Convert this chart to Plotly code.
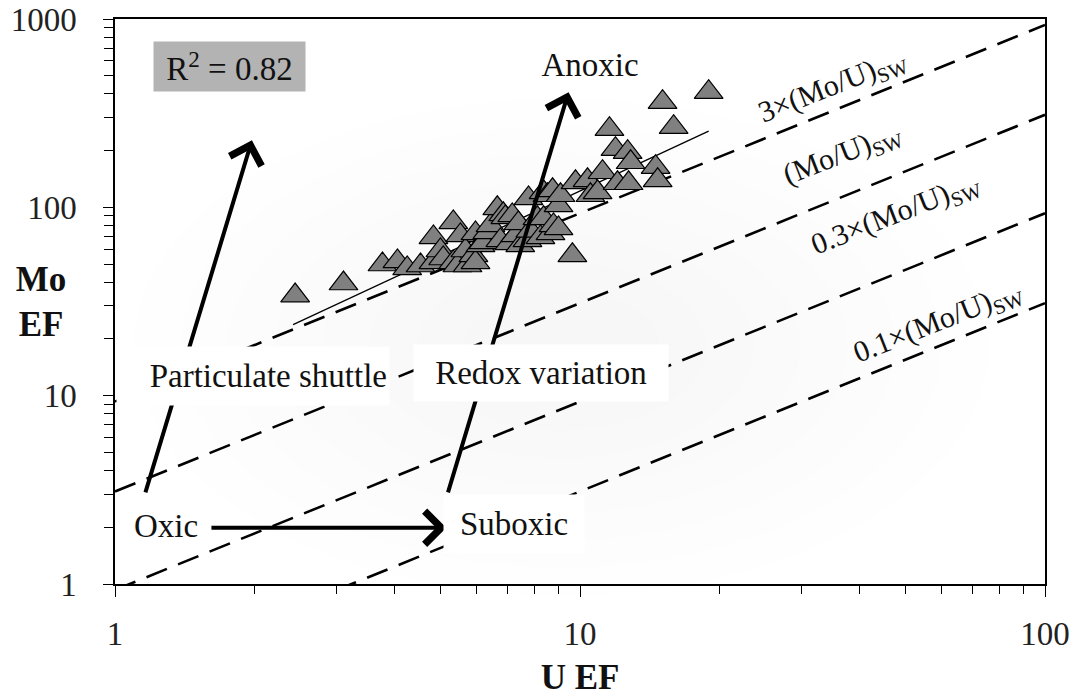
import numpy as np
import plotly.graph_objects as go

# Sample enrichment factors
u_ef = [2.44, 3.10, 3.76, 4.05, 4.25, 4.54, 4.84, 4.84, 5.01, 5.08,
        5.34, 5.34, 5.45, 5.53, 5.67, 5.73, 5.90, 5.96, 5.96, 6.11,
        6.20, 6.32, 6.42, 6.64, 6.74, 6.84, 6.91, 7.05, 7.15, 7.26,
        7.37, 7.44, 7.71, 7.75, 7.82, 8.10, 8.22, 8.35, 8.35, 8.51,
        8.64, 8.73, 8.77, 8.99, 8.99, 9.08, 9.63, 9.78, 10.38, 10.53,
        10.91, 11.18, 11.57, 11.92, 12.04, 12.66, 12.72, 12.85, 14.54, 14.69,
        15.05, 15.90, 18.91]
mo_ef = [34.0, 39.4, 49.7, 51.6, 47.4, 49.1, 69.2, 51.0, 59.0, 53.5,
         83.2, 51.0, 49.1, 70.9, 59.0, 49.1, 55.6, 72.7, 51.0, 62.8,
         65.2, 73.6, 80.2, 98.8, 66.7, 91.8, 88.4, 64.4, 90.6, 70.9,
         82.2, 62.8, 66.7, 111.6, 75.0, 87.4, 69.2, 120.2, 87.4, 115.9,
         72.7, 123.1, 80.2, 102.5, 77.3, 115.9, 55.6, 135.8, 139.2, 115.9,
         120.2, 153.6, 260.0, 203.6, 134.2, 196.2, 134.2, 173.5, 163.3, 139.2,
         362.0, 266.5, 409.0]

# Seawater Mo/U ratio (in EF units) and the multiples drawn as reference lines
mo_u_sw = 3.1
sw_multiples = [3, 1, 0.3, 0.1]
sw_labels = ["3×(Mo/U)<sub>SW</sub>", "(Mo/U)<sub>SW</sub>",
             "0.3×(Mo/U)<sub>SW</sub>", "0.1×(Mo/U)<sub>SW</sub>"]
r_squared = 0.82

x_ticks = [1, 10, 100]
y_ticks = [1, 10, 100, 1000]

SERIF = "Liberation Serif"
lg = np.log10

fig = go.Figure()

# soft grey haze behind the data
for i in range(8):
    s = 1 - i * 0.11
    fig.add_shape(type="circle", xref="paper", yref="paper", layer="below",
                  x0=0.48 - 0.46 * s, x1=0.48 + 0.46 * s,
                  y0=0.42 - 0.44 * s, y1=0.42 + 0.44 * s,
                  line=dict(width=0), fillcolor="rgba(0,0,0,0.005)")

# constant Mo/U ratio lines
for mult in sw_multiples:
    k = mult * mo_u_sw
    xs = [1, 100]
    fig.add_trace(go.Scatter(
        x=xs, y=[k * v for v in xs], mode="lines",
        line=dict(color="black", width=2.6, dash="22px,12px"),
        hoverinfo="skip", showlegend=False))

# power-law regression through the samples
slope, icpt = np.polyfit(lg(u_ef), lg(mo_ef), 1)
xt = np.array([min(u_ef) * 0.99, max(u_ef)])
fig.add_trace(go.Scatter(
    x=xt, y=10 ** (icpt + slope * lg(xt)), mode="lines",
    line=dict(color="black", width=1.3), hoverinfo="skip", showlegend=False))

fig.add_trace(go.Scatter(
    x=u_ef, y=mo_ef, mode="markers",
    marker=dict(symbol="triangle-up", size=25, color="#808080",
                line=dict(color="black", width=1.2)),
    showlegend=False))

ann = []

# process arrows (log10 axis coordinates)
def arrow(x0, y0, x1, y1):
    ann.append(dict(x=lg(x1), y=lg(y1), ax=lg(x0), ay=lg(y0),
                    xref="x", yref="y", axref="x", ayref="y",
                    text="", showarrow=True, arrowhead=4, arrowsize=1.6,
                    arrowwidth=4, arrowcolor="black", standoff=0))

arrow(1.16, 3.01, 1.97, 227)      # particulate shuttle
arrow(5.19, 3.01, 9.45, 409)      # anoxic
arrow(1.60, 1.99, 5.16, 1.99)     # oxic -> suboxic

# ratio line labels
label_xy = [(34.97, 434), (36.7, 189), (47.8, 90.6), (58.8, 24.4)]
for (lx, ly), txt in zip(label_xy, sw_labels):
    ann.append(dict(x=lg(lx), y=lg(ly), xref="x", yref="y", text=txt,
                    showarrow=False, textangle=-21.5,
                    xanchor="center", yanchor="middle",
                    font=dict(family=SERIF, size=30, color="#111")))


def px(xp, yp):
    return (xp - 115) / 930, 1 - (yp - 19) / 565


def box(xp, yp, txt, w, h, bg="white", align="center", size=33):
    x, y = px(xp, yp)
    ann.append(dict(x=x, y=y, xref="paper", yref="paper", text=txt,
                    xanchor="center", yanchor="middle",
                    showarrow=False, bgcolor=bg, width=w, height=h,
                    borderpad=2, align=align,
                    font=dict(family=SERIF, size=size, color="#111")))


box(253, 376, "Particulate shuttle", 268, 54, align="right")
box(541, 373, "Redox variation", 250, 52)
box(514, 524, "Suboxic", 136, 54)
box(166, 526, "Oxic", 70, 44, bg="rgba(0,0,0,0)")
box(590, 65, "Anoxic", 110, 44, bg="rgba(0,0,0,0)")
box(229, 66, f"R<sup>2</sup> = {r_squared:.2f}", 147, 45, bg="#b3b3b3")

# axis titles
box(41, 302, "<b>Mo</b><br><b>EF</b>", 80, 100, bg="rgba(0,0,0,0)", size=35)
box(580, 677, "<b>U EF</b>", 120, 40, bg="rgba(0,0,0,0)", size=35)

fig.update_layout(
    width=1078, height=698,
    margin=dict(l=115, r=33, t=19, b=114),
    paper_bgcolor="white", plot_bgcolor="white",
    showlegend=False, annotations=ann,
    font=dict(family=SERIF, color="#111"))

axis_common = dict(
    type="log", ticks="outside", tickcolor="black", tickwidth=1.3,
    showline=True, linecolor="black", linewidth=1.5, mirror=True,
    showgrid=False, zeroline=False, exponentformat="none", automargin=False,
    tickfont=dict(family=SERIF, size=33, color="#222"))

fig.update_xaxes(range=[0, 2], tickvals=x_ticks, ticktext=[str(v) for v in x_ticks],
                 ticklen=11, ticklabelstandoff=9,
                 minor=dict(ticks="outside", ticklen=8, tickcolor="black",
                            tickwidth=1, dtick="D1", showgrid=False),
                 **axis_common)
fig.update_yaxes(range=[0, 3], tickvals=y_ticks, ticktext=[str(v) for v in y_ticks],
                 ticklen=10, ticklabelstandoff=20,
                 minor=dict(ticks="outside", ticklen=9, tickcolor="black",
                            tickwidth=1, dtick="D1", showgrid=False),
                 **axis_common)

fig.write_html("out.html")
